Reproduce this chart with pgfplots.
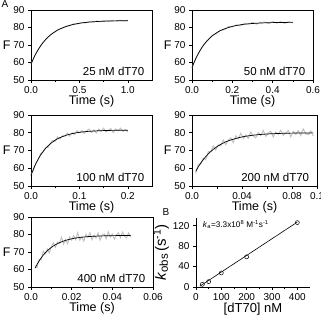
\documentclass[border=0pt]{standalone}
\usepackage{pgfplots}
\pgfplotsset{compat=1.18}
\usepackage{fontspec}
\setmainfont{Liberation Sans}
\begin{document}
\begin{tikzpicture}
\useasboundingbox (0pt,0pt) rectangle (321pt,315pt);
\pgfplotsset{
 panelA/.style={
  scale only axis, width=121pt, height=70pt,
  ymin=50, ymax=90, ytick={50,60,70,80,90},
  tick align=outside, xtick pos=bottom, ytick pos=left,
  major tick length=3pt, minor tick length=2.5pt,
  tick style={black, line width=0.6pt},
  axis line style={line width=0.6pt},
  scaled ticks=false,
  xlabel={Time (s)},
  xlabel style={font=\fontsize{12.5}{13}\selectfont, yshift=5pt},
  ticklabel style={font=\fontsize{10}{10}\selectfont},
  /pgf/number format/assume math mode=true,
  clip=false,
 },
 grey/.style={gray!50, line width=0.9pt},
 fit/.style={black, line width=0.7pt, smooth},
}
\newcommand{\Flab}{\node[anchor=east, xshift=-17pt, font=\fontsize{12.5}{13}\selectfont] at (rel axis cs:0,0.5) {F};}
\newcommand{\ann}[1]{\node[anchor=base east, font=\fontsize{11.5}{12}\selectfont] at (rel axis cs:0.965,0.07) {#1};}

% Panel 1
\begin{axis}[panelA, at={(31pt,235pt)}, anchor=south west,
  xmin=0, xmax=1.25, xtick={0,0.5,1.0}, xticklabels={0.0,0.5,1.0}, minor x tick num=1]
\addplot[grey] coordinates {(0,59.0) (0.04,64.1) (0.08,67.7) (0.12,71.3) (0.16,73.5) (0.20,75.9) (0.24,77.1) (0.28,78.9) (0.32,79.5) (0.36,80.8) (0.40,81.0) (0.44,82.1) (0.48,82.0) (0.52,82.9) (0.56,82.6) (0.60,83.4) (0.64,83.0) (0.68,83.7) (0.72,83.3) (0.76,84.0) (0.80,83.5) (0.84,84.1) (0.88,83.6) (0.92,84.2) (0.96,83.7) (1.00,84.1)};
\addplot[fit] coordinates {(0,59) (0.025,62.21) (0.05,65.01) (0.075,67.45) (0.1,69.58) (0.15,73.04) (0.2,75.68) (0.25,77.68) (0.3,79.20) (0.4,81.23) (0.5,82.40) (0.6,83.08) (0.7,83.47) (0.8,83.69) (0.9,83.82) (1.0,83.90)};
\Flab
\ann{25 nM dT70}
\end{axis}

% Panel 2
\begin{axis}[panelA, at={(192pt,235pt)}, anchor=south west,
  xmin=0, xmax=0.6, xtick={0,0.2,0.4,0.6}, xticklabels={0.0,0.2,0.4,0.6}, minor x tick num=1]
\addplot[grey] coordinates {(0,57.0) (0.02,62.7) (0.04,66.6) (0.06,70.7) (0.08,72.8) (0.10,75.6) (0.12,76.4) (0.14,78.4) (0.16,78.7) (0.18,80.6) (0.20,80.3) (0.22,81.5) (0.24,80.9) (0.26,82.4) (0.28,81.9) (0.30,82.9) (0.32,81.9) (0.34,82.9) (0.36,83.1) (0.38,82.3) (0.40,83.4) (0.42,82.5) (0.44,83.3) (0.46,82.4) (0.48,83.4) (0.50,82.7)};
\addplot[fit] coordinates {(0,57) (0.01,59.94) (0.02,62.55) (0.03,64.86) (0.04,66.91) (0.05,68.73) (0.075,72.43) (0.1,75.17) (0.125,77.20) (0.15,78.70) (0.2,80.64) (0.25,81.71) (0.3,82.29) (0.35,82.61) (0.4,82.79) (0.45,82.88) (0.5,82.94)};
\Flab
\ann{50 nM dT70}
\end{axis}

% Panel 3
\begin{axis}[panelA, at={(31pt,129pt)}, anchor=south west, height=71pt,
  xmin=0, xmax=0.25, xtick={0,0.1,0.2}, xticklabels={0.0,0.1,0.2}, minor x tick num=1]
\addplot[grey] coordinates {(0.000,56.6) (0.005,58.8) (0.010,62.9) (0.015,64.7) (0.020,68.4) (0.025,69.1) (0.030,71.8) (0.035,71.6) (0.040,74.0) (0.045,75.7) (0.050,75.2) (0.055,77.7) (0.060,76.4) (0.065,78.3) (0.070,78.1) (0.075,79.8) (0.080,78.1) (0.085,80.0) (0.090,79.1) (0.095,81.2) (0.100,80.0) (0.105,81.3) (0.110,79.6) (0.115,81.0) (0.120,82.1) (0.125,80.1) (0.130,81.6) (0.135,79.9) (0.140,82.1) (0.145,80.7) (0.150,82.6) (0.155,80.4) (0.160,81.5) (0.165,82.4) (0.170,80.0) (0.175,82.1) (0.180,81.0) (0.185,82.6) (0.190,80.7) (0.195,81.9) (0.200,80.4)};
\addplot[fit] coordinates {(0,56) (0.005,59.55) (0.01,62.61) (0.015,65.24) (0.02,67.51) (0.025,69.45) (0.03,71.13) (0.04,73.82) (0.05,75.81) (0.06,77.28) (0.08,79.19) (0.1,80.23) (0.12,80.80) (0.14,81.12) (0.16,81.29) (0.18,81.39) (0.2,81.44)};
\Flab
\ann{100 nM dT70}
\end{axis}

% Panel 4
\begin{axis}[panelA, at={(192pt,129pt)}, anchor=south west, width=125pt, height=71pt,
  xmin=0, xmax=0.1, xtick={0,0.02,0.04,0.06,0.08,0.1}, xticklabels={0.0,,0.04,,0.08,0.1}]
\addplot[grey] coordinates {(0.003,57.1) (0.005,62.3) (0.007,62.4) (0.009,65.8) (0.011,64.8) (0.013,69.4) (0.015,69.2) (0.017,72.6) (0.019,70.3) (0.021,73.2) (0.023,72.6) (0.025,75.9) (0.027,73.3) (0.029,75.8) (0.031,77.1) (0.033,74.4) (0.035,78.3) (0.037,76.5) (0.039,79.7) (0.041,76.7) (0.043,78.8) (0.045,76.8) (0.047,80.4) (0.049,78.3) (0.051,77.1) (0.053,80.1) (0.055,78.4) (0.057,81.3) (0.059,78.0) (0.061,79.8) (0.063,80.8) (0.065,77.6) (0.067,80.4) (0.069,79.2) (0.071,81.4) (0.073,78.5) (0.075,79.9) (0.077,81.3) (0.079,77.7) (0.081,80.8) (0.083,79.0) (0.085,81.2) (0.087,78.4) (0.089,82.2) (0.091,79.3) (0.093,78.9) (0.095,81.0) (0.097,78.2)};
\addplot[fit] coordinates {(0.003,58.28) (0.006,61.86) (0.01,65.73) (0.015,69.43) (0.02,72.17) (0.025,74.20) (0.03,75.70) (0.04,77.64) (0.05,78.71) (0.06,79.29) (0.07,79.61) (0.08,79.79) (0.09,79.88) (0.097,79.92)};
\Flab
\ann{200 nM dT70}
\end{axis}

% Panel 5
\begin{axis}[panelA, at={(31pt,28pt)}, anchor=south west, width=122pt,
  xmin=0, xmax=0.06, xtick={0,0.02,0.04,0.06}, xticklabels={0.0,0.02,0.04,0.06}, minor x tick num=1]
\addplot[grey] coordinates {(0.002,62.3) (0.003,61.0) (0.004,65.7) (0.005,65.5) (0.006,70.6) (0.007,68.9) (0.008,71.8) (0.009,69.4) (0.010,73.0) (0.011,75.3) (0.012,72.6) (0.013,75.7) (0.014,75.0) (0.015,78.4) (0.016,74.5) (0.017,77.1) (0.018,74.8) (0.019,78.6) (0.020,76.8) (0.021,79.5) (0.022,77.0) (0.023,81.1) (0.024,76.7) (0.025,78.7) (0.026,76.1) (0.027,80.1) (0.028,78.4) (0.029,81.0) (0.030,77.0) (0.031,79.7) (0.032,78.0) (0.033,80.9) (0.034,76.8) (0.035,79.8) (0.036,80.4) (0.037,77.6) (0.038,81.6) (0.039,78.5) (0.040,80.3) (0.041,77.3) (0.042,79.7) (0.043,81.0) (0.044,78.1) (0.045,81.4) (0.046,78.9) (0.047,78.0) (0.048,80.9) (0.049,78.6)};
\addplot[fit] coordinates {(0.002,60.81) (0.004,64.94) (0.006,68.16) (0.008,70.67) (0.010,72.62) (0.012,74.14) (0.015,75.82) (0.018,76.97) (0.022,77.97) (0.026,78.57) (0.03,78.94) (0.035,79.20) (0.04,79.34) (0.045,79.41) (0.049,79.45)};
\Flab
\ann{400 nM dT70}
\end{axis}

% Panel B
\begin{axis}[at={(196pt,28pt)}, anchor=south west, scale only axis, width=114pt, height=69pt,
  xmin=0, xmax=450, ymin=0, ymax=135,
  axis lines*=left, tick align=outside,
  xtick={0,100,200,300,400}, ytick={0,40,80,120}, minor x tick num=1,
  major tick length=3pt, minor tick length=2.5pt,
  tick style={black, line width=0.6pt},
  axis line style={line width=0.6pt},
  ticklabel style={font=\fontsize{10}{10}\selectfont},
  /pgf/number format/assume math mode=true,
  xlabel={[dT70] nM},
  xlabel style={font=\fontsize{13}{13}\selectfont, yshift=4pt},
  ylabel={\textit{k}{\fontsize{11.5}{12}\selectfont\raisebox{-0.35ex}{obs}}\,(s\textsuperscript{-1})},
  ylabel style={font=\fontsize{15}{15}\selectfont, yshift=-3pt},
  clip=false]
\addplot[black, line width=0.6pt] coordinates {(15,1.5) (400,127)};
\addplot[black, only marks, mark=o, mark size=2pt, mark options={line width=0.5pt}] coordinates {(25,5.2) (50,10.5) (100,27.5) (200,59) (400,126)};
\node[anchor=west, font=\fontsize{8.2}{9}\selectfont] at (rel axis cs:0.03,0.9) {\textit{k}\textsubscript{a}=3.3x10\textsuperscript{8} M\textsuperscript{-1}s\textsuperscript{-1}};
\end{axis}

\node[font=\fontsize{10}{10}\selectfont] at (5pt,311pt) {A};
\node[font=\fontsize{10}{10}\selectfont] at (166pt,103pt) {B};
\end{tikzpicture}
\end{document}
